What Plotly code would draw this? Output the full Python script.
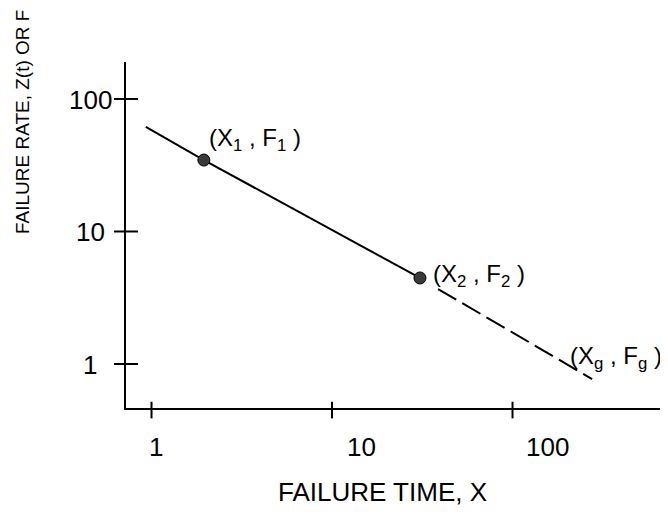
import math
import plotly.graph_objects as go

# ---- data ----
x_tick_vals = [1, 10, 100]
x_tick_text = ["1", "10", "100"]
y_tick_vals = [1, 10, 100]
y_tick_text = ["1", "10", "100"]

solid_x = [0.93, 1.95, 30.7]
solid_y = [61.5, 34.6, 4.46]

point_x = [1.95, 30.7]
point_y = [34.6, 4.46]
point_labels = ["(X<sub>1</sub> , F<sub>1</sub> )", "(X<sub>2</sub> , F<sub>2</sub> )"]

dash_x = [38.7, 276.0]
dash_y = [3.68, 0.77]
end_label = "(X<sub>g</sub> , F<sub>g</sub> )"

x_title = "FAILURE TIME, X"
y_title = "FAILURE RATE, Z(t) OR F"

FONT = "Liberation Sans, Arial, sans-serif"
lg = math.log10

fig = go.Figure()
fig.add_trace(go.Scatter(x=solid_x, y=solid_y, mode="lines",
                         line=dict(color="black", width=2), hoverinfo="skip"))
fig.add_trace(go.Scatter(x=dash_x, y=dash_y, mode="lines",
                         line=dict(color="black", width=2, dash="21px,7px"), hoverinfo="skip"))
fig.add_trace(go.Scatter(x=point_x, y=point_y, mode="markers",
                         marker=dict(size=12, color="#3a3a3a", line=dict(color="black", width=1)),
                         hoverinfo="skip"))

annotations = []
# x tick labels
x_label_shift = [4, 29, 35]
for v, t, s in zip(x_tick_vals, x_tick_text, x_label_shift):
    annotations.append(dict(x=lg(v), xref="x", y=-0.113, yref="paper", text=t, showarrow=False,
                            xanchor="center", yanchor="middle", xshift=s,
                            font=dict(size=26, color="black", family=FONT)))
# y tick labels
for v, t in zip(y_tick_vals, y_tick_text):
    annotations.append(dict(x=-0.0674, xref="paper", y=lg(v), yref="y", text=t, showarrow=False,
                            xanchor="center", yanchor="middle", yshift=-1,
                            font=dict(size=26, color="black", family=FONT)))
# point labels
label_shifts = [(3, 21), (11, 2)]
for px, py, t, (sx, sy) in zip(point_x, point_y, point_labels, label_shifts):
    annotations.append(dict(x=lg(px), y=lg(py), xref="x", yref="y", text=t, showarrow=False,
                            xanchor="left", yanchor="middle", xshift=sx, yshift=sy,
                            font=dict(size=24, color="black", family=FONT)))
annotations.append(dict(x=lg(dash_x[-1]), y=lg(dash_y[-1]), xref="x", yref="y", text=end_label,
                        showarrow=False, xanchor="left", yanchor="middle", xshift=-24, yshift=22,
                        font=dict(size=24, color="black", family=FONT)))
# axis titles
annotations.append(dict(x=0.481, y=-0.243, xref="paper", yref="paper", text=x_title, showarrow=False,
                        xanchor="center", yanchor="middle", font=dict(size=26, color="black", family=FONT)))
annotations.append(dict(x=-0.195, y=0.829, xref="paper", yref="paper", text=y_title, showarrow=False,
                        textangle=-90, xanchor="center", yanchor="middle",
                        font=dict(size=19, color="black", family=FONT)))

# crossing tick marks (shape coordinates on log axes take data values)
shapes = []
for v in x_tick_vals:
    shapes.append(dict(type="line", xref="x", yref="paper", x0=v, x1=v,
                       y0=-0.03, y1=0.018, line=dict(color="black", width=2)))
for v in y_tick_vals:
    shapes.append(dict(type="line", xref="paper", yref="y", y0=v, y1=v,
                       x0=-0.0225, x1=0.0225, line=dict(color="black", width=2)))

fig.update_layout(
    width=660, height=511,
    margin=dict(l=118, r=8, t=54, b=111),
    paper_bgcolor="white", plot_bgcolor="white",
    showlegend=False,
    annotations=annotations, shapes=shapes,
    xaxis=dict(type="log", range=[-0.1413, 2.817], showgrid=False, zeroline=False,
               showline=True, linecolor="black", linewidth=2, showticklabels=False, ticks=""),
    yaxis=dict(type="log", range=[-0.332, 2.279], showgrid=False, zeroline=False,
               showline=True, linecolor="black", linewidth=2, showticklabels=False, ticks=""),
)

fig.write_html("out.html")
